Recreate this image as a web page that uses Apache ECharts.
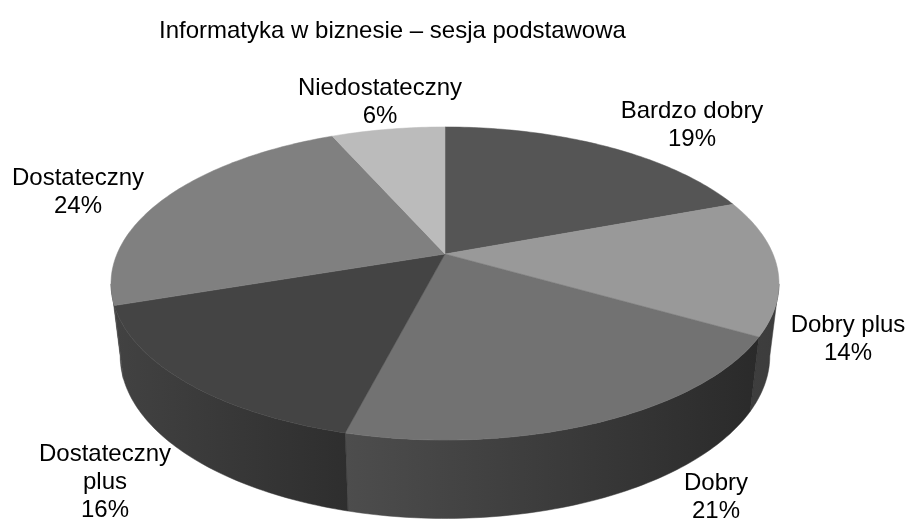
<!DOCTYPE html>
<html><head><meta charset="utf-8">
<style>html,body{margin:0;padding:0;background:#fff}#c{width:910px;height:520px}</style>
<script src="https://cdn.jsdelivr.net/npm/echarts@6/dist/echarts.min.js"></script>
</head><body><div id="c"></div>
<script>
const categories = ['Bardzo dobry','Dobry plus','Dobry','Dostateczny\nplus','Dostateczny','Niedostateczny'];
const values = [19.3,14.0,20.7,15.8,23.6,6.6];
const percentLabels = ['19%','14%','21%','16%','24%','6%'];

// styling and projection of the pie
const topColors = ['#555555','#999999','#727272','#444444','#808080','#bbbbbb'];
const sideColors = [['#333','#333'],['#3e3e3e','#3c3c3c'],['#4d4d4d','#2a2a2a'],['#424242','#2e2e2e'],['#444','#444'],['#555','#555']];
const labelCenters = [[692,125.5],[848,339.5],[716,497.5],[105,482.5],[78,192.5],[380,102.5]];
const K = 0.1885, CX = 445;
const TOP = {y0:254, R:328, B:151};
const BOT = {y0:325, R:319, B:157};
const FRONT_A = 101*Math.PI/180, FRONT_B = 259*Math.PI/180;
const total = values.reduce((a,b)=>a+b,0);
function project(p, a){
  const x = Math.sin(a), y = -Math.cos(a), d = 1 - K*y;
  return [CX + p.R*x/d, p.y0 + p.B*y/d];
}
function arc(p, a0, a1){
  const n = Math.max(2, Math.ceil(Math.abs(a1-a0)*180/Math.PI)), out = [];
  for(let i=0;i<=n;i++) out.push(project(p, a0+(a1-a0)*i/n));
  return out;
}
function range(i){
  let s = 0; for(let j=0;j<i;j++) s += values[j];
  return [s/total*2*Math.PI, (s+values[i])/total*2*Math.PI];
}
function renderSide(params, api){
  const i = params.dataIndex, r = range(i);
  const a0 = Math.max(r[0], FRONT_A), a1 = Math.min(r[1], FRONT_B);
  if(a1 <= a0) return {type:'group',children:[]};
  const t = arc(TOP,a0,a1), b = arc(BOT,a0,a1).reverse();
  const pts = t.concat(b);
  const xs = pts.map(p=>p[0]);
  const c = sideColors[i];
  const fill = new echarts.graphic.LinearGradient(Math.min(...xs),0,Math.max(...xs),0,
    [{offset:0,color:c[0]},{offset:1,color:c[1]}], true);
  return {type:'polygon',shape:{points:pts},style:{fill:fill,stroke:fill,lineWidth:0.5}};
}
function renderTop(params, api){
  const i = params.dataIndex, r = range(i);
  const pts = [[CX, TOP.y0]].concat(arc(TOP,r[0],r[1]));
  return {type:'polygon',shape:{points:pts},style:{fill:topColors[i],stroke:topColors[i],lineWidth:0.5}};
}
function renderLabel(params, api){
  const i = params.dataIndex, c = labelCenters[i];
  return {type:'text',x:c[0],y:c[1],style:{
    text:categories[i]+'\n'+percentLabels[i],
    font:'24px "Liberation Sans", Arial, sans-serif',fill:'#000',
    align:'center',verticalAlign:'middle',lineHeight:28}};
}
const rows = values.map((v,i)=>({name:categories[i],value:v}));
const chart = echarts.init(document.getElementById('c'),null,{renderer:'canvas'});
chart.setOption({
  animation:false,
  backgroundColor:'#fff',
  title:{text:'Informatyka w biznesie – sesja podstawowa',left:154,top:14,
    textStyle:{fontFamily:'"Liberation Sans", Arial, sans-serif',fontSize:24,fontWeight:'normal',color:'#000'}},
  series:[
    {type:'custom',coordinateSystem:'none',renderItem:renderSide,data:rows,z:1,silent:true},
    {type:'custom',coordinateSystem:'none',renderItem:renderTop,data:rows,z:2,silent:true},
    {type:'custom',coordinateSystem:'none',renderItem:renderLabel,data:rows,z:3,silent:true}
  ]
});
</script></body></html>
